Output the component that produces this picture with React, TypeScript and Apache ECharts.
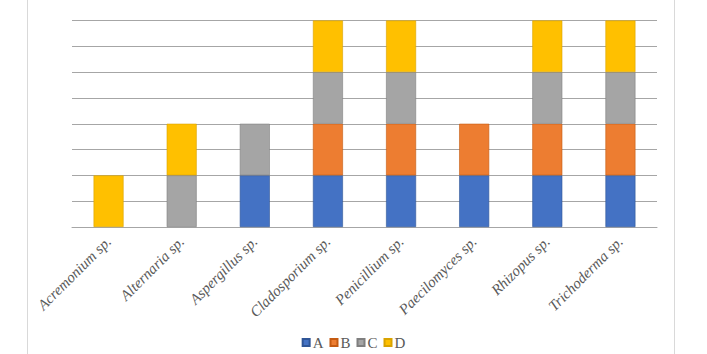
import React, { useEffect, useRef } from "react";
import * as echarts from "echarts";

const categories = [
  "Acremonium sp.",
  "Alternaria sp.",
  "Aspergillus sp.",
  "Cladosporium sp.",
  "Penicillium sp.",
  "Paecilomyces sp.",
  "Rhizopus sp.",
  "Trichoderma sp.",
];
const seriesA = [0, 0, 1, 1, 1, 1, 1, 1];
const seriesB = [0, 0, 0, 1, 1, 1, 1, 1];
const seriesC = [0, 1, 1, 1, 1, 0, 1, 1];
const seriesD = [1, 1, 0, 1, 1, 0, 1, 1];

const seriesNames = ["A", "B", "C", "D"];
const seriesData = [seriesA, seriesB, seriesC, seriesD];
const colors = ["#4472C4", "#ED7D31", "#A5A5A5", "#FFC000"];
const borders = ["#2f5597", "#c55a11", "#7f7f7f", "#d9a300"];

export default function App() {
  const ref = useRef<HTMLDivElement>(null);
  useEffect(() => {
    if (!ref.current) return;
    const chart = echarts.init(ref.current, undefined, { renderer: "svg" });
    const serif = "'Liberation Serif', 'Times New Roman', serif";
    chart.setOption({
      animation: false,
      backgroundColor: "#ffffff",
      color: colors,
      graphic: [
        {
          type: "rect",
          shape: { x: 27.5, y: -5, width: 647, height: 370 },
          style: { fill: "none", stroke: "#d9d9d9", lineWidth: 1 },
          silent: true,
          z: -1,
        },
      ],
      grid: { left: 72, right: 50, top: 20.5, bottom: 127, containLabel: false },
      legend: {
        data: seriesNames,
        top: 335,
        left: "center",
        padding: 0,
        itemWidth: 7,
        itemHeight: 7,
        itemGap: 6,
        icon: "rect",
        textStyle: { fontFamily: serif, fontSize: 15, color: "#595959", padding: [0, 0, 0, -2] },
      },
      xAxis: {
        type: "category",
        data: categories,
        axisLine: { show: true, lineStyle: { color: "#a6a6a6", width: 1 } },
        axisTick: { show: false },
        axisLabel: {
          rotate: 45,
          interval: 0,
          margin: 12,
          fontFamily: serif,
          fontStyle: "italic",
          fontSize: 15,
          color: "#595959",
        },
      },
      yAxis: {
        type: "value",
        min: 0,
        max: 4,
        interval: 0.5,
        axisLabel: { show: false },
        axisLine: { show: false },
        axisTick: { show: false },
        splitLine: { show: true, lineStyle: { color: "#a6a6a6", width: 1 } },
      },
      series: seriesData.map((d, i) => ({
        name: seriesNames[i],
        type: "bar",
        stack: "total",
        data: d.map((v) => (v === 0 ? "-" : v)),
        barWidth: "41%",
        itemStyle: { color: colors[i], borderColor: borders[i], borderWidth: 0.6 },
      })),
    });
    return () => chart.dispose();
  }, []);
  return (
    <div
      ref={ref}
      style={{ position: "absolute", left: 0, top: 0, width: 707, height: 354 }}
    />
  );
}
